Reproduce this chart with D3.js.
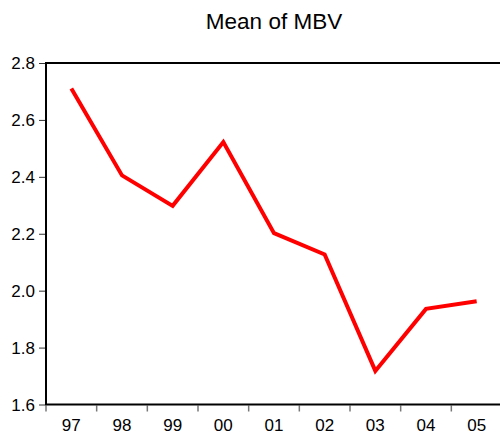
<!DOCTYPE html>
<html>
<head>
<meta charset="utf-8">
<script src="https://cdn.jsdelivr.net/npm/d3@7"></script>
<style>
  body { margin: 0; background: #fff; }
  svg { display: block; font-family: "Liberation Sans", Arial, sans-serif; }
</style>
</head>
<body>
<div id="chart"></div>
<script>
var years = ["97", "98", "99", "00", "01", "02", "03", "04", "05"];
var meanMBV = [2.71, 2.405, 2.298, 2.522, 2.202, 2.127, 1.718, 1.936, 1.963];
var yTicks = [1.6, 1.8, 2.0, 2.2, 2.4, 2.6, 2.8];

var margin = { top: 63, left: 46 },
  width = 456,
  height = 341.5;

var svg = d3.select("#chart")
  .append("svg")
  .attr("width", 500)
  .attr("height", 436);

svg.append("text")
  .attr("x", margin.left + width / 2)
  .attr("y", 29)
  .attr("text-anchor", "middle")
  .style("font-size", "22.5px")
  .text("Mean of MBV");

var g = svg.append("g")
  .attr("transform", "translate(" + margin.left + "," + margin.top + ")");

var x = d3.scaleBand()
  .domain(years)
  .range([0, width]);

var y = d3.scaleLinear()
  .domain([1.6, 2.8])
  .range([height, 0]);

// y axis ticks + labels
var yAxis = g.append("g")
  .call(d3.axisLeft(y).tickValues(yTicks).tickFormat(d3.format(".1f")).tickSize(6).tickPadding(5));
yAxis.select(".domain").remove();
yAxis.selectAll("line").attr("stroke", "#333").attr("transform", "translate(-1,0)");
yAxis.selectAll("text").style("font-size", "17px").attr("fill", "#000").attr("dy", "0.35em");

// x axis: ticks at category boundaries, labels centred
var bounds = years.map(function (d) { return x(d); });
g.append("g")
  .selectAll("line")
  .data(bounds)
  .enter()
  .append("line")
  .attr("x1", function (d) { return d; })
  .attr("x2", function (d) { return d; })
  .attr("y1", height + 1)
  .attr("y2", height + 7)
  .attr("stroke", "#777")
  .attr("stroke-width", 1.5);

g.append("g")
  .selectAll("text")
  .data(years)
  .enter()
  .append("text")
  .attr("x", function (d) { return x(d) + x.bandwidth() / 2; })
  .attr("y", height + 26)
  .attr("text-anchor", "middle")
  .style("font-size", "17px")
  .text(function (d) { return d; });

// frame
g.append("rect")
  .attr("x", 0)
  .attr("y", 0)
  .attr("width", width)
  .attr("height", height)
  .attr("fill", "none")
  .attr("stroke", "#000")
  .attr("stroke-width", 2);

var line = d3.line()
  .x(function (d, i) { return x(years[i]) + x.bandwidth() / 2; })
  .y(function (d) { return y(d); });

g.append("path")
  .datum(meanMBV)
  .attr("d", line)
  .attr("fill", "none")
  .attr("stroke", "#ff0000")
  .attr("stroke-width", 4)
  .attr("stroke-linejoin", "miter");
</script>
</body>
</html>
